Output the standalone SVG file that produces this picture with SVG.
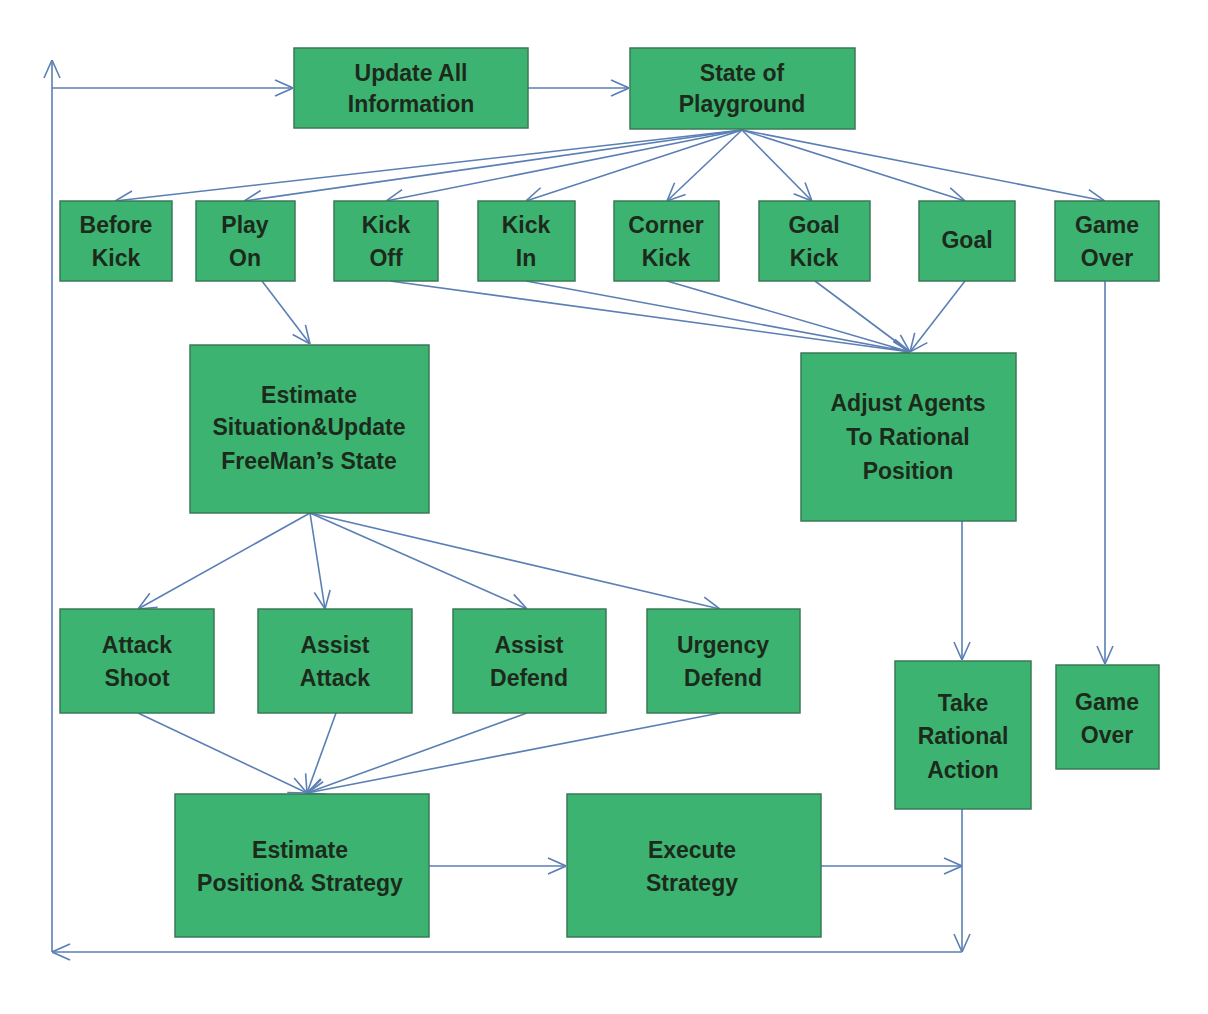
<svg xmlns="http://www.w3.org/2000/svg" width="1208" height="1014" viewBox="0 0 1208 1014">
<style>
.n rect{fill:#3cb371;stroke:#3a7a55;stroke-width:1.5}
.n text{font-family:"Liberation Sans",Arial,sans-serif;font-size:23px;font-weight:bold;fill:#1c2a1c;text-anchor:middle}
#c path{fill:none;stroke:#5b7fb5;stroke-width:1.6;marker-end:url(#a)}
</style>
<defs><marker id="a" viewBox="0 0 20 20" refX="20" refY="10" markerWidth="20" markerHeight="20" markerUnits="userSpaceOnUse" orient="auto"><path d="M2,2 L20,10 L2,18" fill="none" stroke="#5b7fb5" stroke-width="1.6"/></marker></defs>
<rect width="1208" height="1014" fill="#fff"/>
<g id="c">
<path d="M528,88 H629"/>
<path d="M742,130 L115,201"/><path d="M742,130 L244,201"/><path d="M742,130 L386,201"/><path d="M742,130 L526,201"/><path d="M742,130 L667,201"/><path d="M742,130 L812,201"/><path d="M742,130 L965,201"/><path d="M742,130 L1105,201"/>
<path d="M390,281 L910,352"/><path d="M526,281 L910,352"/><path d="M667,281 L910,352"/><path d="M815,281 L910,352"/><path d="M965,281 L910,352"/>
<path d="M262,281 L310,344"/>
<path d="M310,513 L138,609"/><path d="M310,513 L325,609"/><path d="M310,513 L527,609"/><path d="M310,513 L720,609"/>
<path d="M138,713 L307,793"/><path d="M336,713 L307,793"/><path d="M527,713 L307,793"/><path d="M720,713 L307,793"/>
<path d="M962,521 V660"/><path d="M1105,281 V664"/>
<path d="M429,866 H566"/><path d="M821,866 H962"/>
<path d="M962,809 V952"/><path d="M962,952 H52"/><path d="M52,952 V60"/><path d="M52,88 H293"/>
</g>
<g id="update" class="n"><rect x="294" y="48" width="234" height="80"/><text x="411" y="81">Update All</text><text x="411" y="112">Information</text></g>
<g id="state" class="n"><rect x="630" y="48" width="225" height="81"/><text x="742" y="81">State  of</text><text x="742" y="112">Playground</text></g>
<g id="beforekick" class="n"><rect x="60" y="201" width="112" height="80"/><text x="116" y="233">Before</text><text x="116" y="266">Kick</text></g>
<g id="playon" class="n"><rect x="196" y="201" width="99" height="80"/><text x="245" y="233">Play</text><text x="245" y="266">On</text></g>
<g id="kickoff" class="n"><rect x="334" y="201" width="104" height="80"/><text x="386" y="233">Kick</text><text x="386" y="266">Off</text></g>
<g id="kickin" class="n"><rect x="478" y="201" width="97" height="80"/><text x="526" y="233">Kick</text><text x="526" y="266">In</text></g>
<g id="corner" class="n"><rect x="614" y="201" width="105" height="80"/><text x="666" y="233">Corner</text><text x="666" y="266">Kick</text></g>
<g id="goalkick" class="n"><rect x="759" y="201" width="111" height="80"/><text x="814" y="233">Goal</text><text x="814" y="266">Kick</text></g>
<g id="goal" class="n"><rect x="919" y="201" width="96" height="80"/><text x="967" y="248">Goal</text></g>
<g id="gameover1" class="n"><rect x="1055" y="201" width="104" height="80"/><text x="1107" y="233">Game</text><text x="1107" y="266">Over</text></g>
<g id="estsit" class="n"><rect x="190" y="345" width="239" height="168"/><text x="309" y="403">Estimate</text><text x="309" y="435">Situation&amp;Update</text><text x="309" y="469">FreeMan’s State</text></g>
<g id="adjust" class="n"><rect x="801" y="353" width="215" height="168"/><text x="908" y="411">Adjust  Agents</text><text x="908" y="445">To  Rational</text><text x="908" y="479">Position</text></g>
<g id="attack" class="n"><rect x="60" y="609" width="154" height="104"/><text x="137" y="653">Attack</text><text x="137" y="686">Shoot</text></g>
<g id="assista" class="n"><rect x="258" y="609" width="154" height="104"/><text x="335" y="653">Assist</text><text x="335" y="686">Attack</text></g>
<g id="assistd" class="n"><rect x="453" y="609" width="153" height="104"/><text x="529" y="653">Assist</text><text x="529" y="686">Defend</text></g>
<g id="urgency" class="n"><rect x="647" y="609" width="153" height="104"/><text x="723" y="653">Urgency</text><text x="723" y="686">Defend</text></g>
<g id="take" class="n"><rect x="895" y="661" width="136" height="148"/><text x="963" y="711">Take</text><text x="963" y="744">Rational</text><text x="963" y="778">Action</text></g>
<g id="gameover2" class="n"><rect x="1056" y="665" width="103" height="104"/><text x="1107" y="710">Game</text><text x="1107" y="743">Over</text></g>
<g id="estpos" class="n"><rect x="175" y="794" width="254" height="143"/><text x="300" y="858">Estimate</text><text x="300" y="891">Position&amp; Strategy</text></g>
<g id="exec" class="n"><rect x="567" y="794" width="254" height="143"/><text x="692" y="858">Execute</text><text x="692" y="891">Strategy</text></g>
</svg>
